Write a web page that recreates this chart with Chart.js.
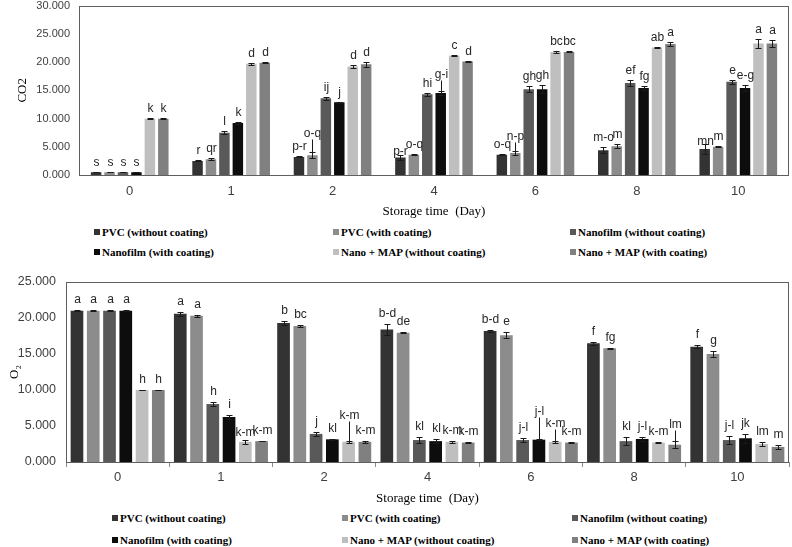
<!DOCTYPE html>
<html>
<head>
<meta charset="utf-8">
<script src="https://cdn.jsdelivr.net/npm/chart.js@4.4.1/dist/chart.umd.min.js"></script>
<style>
  body { margin: 0; background: #fff; width: 792px; height: 547px; overflow: hidden; position: relative; }
  canvas { position: absolute; left: 0; }
  #co2-chart { top: -10px; }
  #o2-chart { top: 262px; }
  .legend-item { position: absolute; font: bold 11px "Liberation Serif", serif; color: #000; white-space: nowrap; line-height: 14px; }
  .legend-item i { display: inline-block; width: 6px; height: 6px; margin-right: 2px; vertical-align: 1px; }
</style>
</head>
<body>
<canvas id="co2-chart" width="792" height="229"></canvas>
<canvas id="o2-chart" width="792" height="244"></canvas>
<div id="legends"></div>
<script>
// Categorias y series
const days = ['0', '1', '2', '4', '6', '8', '10'];
const seriesNames = ['PVC (without coating)', 'PVC (with coating)', 'Nanofilm (without coating)',
                     'Nanofilm (with coating)', 'Nano + MAP (without coating)', 'Nano + MAP (with coating)'];
const seriesColors = ['#333333', '#8c8c8c', '#595959', '#0d0d0d', '#bfbfbf', '#808080'];

// CO2 (una fila por serie, una columna por dia)
const co2Mean = [
    [0.5, 2.5, 3.2, 3.1, 3.6, 4.4, 4.6],
    [0.5, 2.8, 3.5, 3.6, 3.9, 5.1, 5.0],
    [0.5, 7.5, 13.6, 14.3, 15.2, 16.3, 16.5],
    [0.5, 9.2, 12.9, 14.5, 15.2, 15.4, 15.4],
    [9.95, 19.7, 19.2, 21.1, 21.8, 22.6, 23.3],
    [9.95, 19.9, 19.6, 20.1, 21.8, 23.2, 23.3]
];
const co2Err = [
    [0.05, 0.1, 0.1, 0.4, 0.1, 0.5, 0.9],
    [0.05, 0.2, 0.5, 0.1, 0.3, 0.4, 0.1],
    [0.05, 0.3, 0.3, 0.3, 0.5, 0.5, 0.3],
    [0.05, 0.1, 0.1, 0.3, 0.7, 0.4, 0.5],
    [0.1, 0.15, 0.2, 0.1, 0.2, 0.1, 0.8],
    [0.1, 0.1, 0.5, 0.1, 0.1, 0.4, 0.6]
];
const co2Letters = [
    ['s', 'r', 'p-r', 'p-r', 'o-q', 'm-o', 'mn'],
    ['s', 'qr', 'o-q', 'o-q', 'n-p', 'm', 'm'],
    ['s', 'l', 'ij', 'hi', 'gh', 'ef', 'e'],
    ['s', 'k', 'j', 'g-i', 'gh', 'fg', 'e-g'],
    ['k', 'd', 'd', 'c', 'bc', 'ab', 'a'],
    ['k', 'd', 'd', 'd', 'bc', 'a', 'a']
];

// O2
const o2Mean = [
    [21.0, 20.6, 19.3, 18.4, 18.2, 16.5, 16.0],
    [21.0, 20.3, 18.9, 17.95, 17.6, 15.8, 15.0],
    [21.0, 8.05, 3.9, 3.05, 3.05, 2.9, 3.05],
    [21.0, 6.25, 3.15, 2.9, 3.1, 3.2, 3.3],
    [10.0, 2.8, 2.8, 2.8, 2.8, 2.7, 2.5],
    [10.0, 2.9, 2.8, 2.7, 2.7, 2.4, 2.1]
];
const o2Err = [
    [0.05, 0.3, 0.3, 0.7, 0.2, 0.2, 0.2],
    [0.05, 0.1, 0.1, 0.1, 0.4, 0.1, 0.4],
    [0.05, 0.3, 0.3, 0.4, 0.3, 0.6, 0.6],
    [0.05, 0.3, 0.1, 0.3, 0.1, 0.3, 0.6],
    [0.05, 0.3, 0.1, 0.1, 0.1, 0.1, 0.3],
    [0.05, 0.05, 0.1, 0.1, 0.1, 0.5, 0.3]
];
const o2Letters = [
    ['a', 'a', 'b', 'b-d', 'b-d', 'f', 'f'],
    ['a', 'a', 'bc', 'de', 'e', 'fg', 'g'],
    ['a', 'h', 'j', 'kl', 'j-l', 'kl', 'j-l'],
    ['a', 'i', 'kl', 'kl', 'j-l', 'j-l', 'jk'],
    ['h', 'k-m', 'k-m', 'k-m', 'k-m', 'k-m', 'lm'],
    ['h', 'k-m', 'k-m', 'k-m', 'k-m', 'lm', 'm']
];

// Desplazamiento vertical de las letras (px); >0 con linea guia
const co2Lift = [
    [0, 0, 0, -6, 0, 0, -7],
    [0, 0, 9, 0, 5, 0, 0],
    [0, 0, 0, 0, 0, 0, 0],
    [0, 0, 0, 7, 0, 0, 0],
    [0, 0, 0, 0, 0, 0, 0],
    [0, 0, 0, 0, 0, 0, 0]
];
const o2Lift = [
    [0, 0, 0, 0, 0, 0, 0],
    [0, 0, 0, 0, 0, 0, 0],
    [0, 0, 0, 0, 0, 0, 0],
    [0, 0, 0, 0, 17, 0, 0],
    [0, -3, 15, 0, 7, 0, 0],
    [0, 0, 0, 0, 0, 6, 0]
];

// Plugin: barras de error, letras y marco
const barExtras = {
    id: 'barExtras',
    afterDatasetsDraw(chart, args, opts) {
        const ctx = chart.ctx;
        const yScale = chart.scales.y;
        const area = chart.chartArea;
        ctx.save();
        ctx.font = '12px "Liberation Sans", Arial, sans-serif';
        ctx.textAlign = 'center';
        ctx.textBaseline = 'alphabetic';
        chart.data.datasets.forEach((ds, i) => {
            const meta = chart.getDatasetMeta(i);
            meta.data.forEach((bar, j) => {
                const v = ds.data[j];
                const e = opts.errors[i][j];
                const yTop = Math.round(yScale.getPixelForValue(v + e)) + 0.5;
                const yBot = Math.round(yScale.getPixelForValue(v - e)) + 0.5;
                const x = Math.round(bar.x) + 0.5;
                ctx.strokeStyle = '#1a1a1a';
                ctx.lineWidth = 1;
                ctx.beginPath();
                ctx.moveTo(x, yTop); ctx.lineTo(x, yBot);
                ctx.moveTo(x - 3, yTop); ctx.lineTo(x + 3, yTop);
                ctx.moveTo(x - 3, yBot); ctx.lineTo(x + 3, yBot);
                ctx.stroke();

                const lift = opts.lift[i][j];
                const ty = yTop - opts.gap - lift;
                ctx.fillStyle = '#262626';
                ctx.fillText(opts.letters[i][j], x, ty);
                if (lift > 0) {
                    ctx.beginPath();
                    ctx.moveTo(x, ty + 3);
                    ctx.lineTo(x, yTop);
                    ctx.stroke();
                }
            });
        });
        // marco del area
        ctx.strokeStyle = '#5f5f5f';
        ctx.lineWidth = 1;
        ctx.strokeRect(Math.round(area.left) + 0.5, Math.round(area.top) + 0.5,
                       Math.round(area.width) - 1, Math.round(area.height));
        ctx.restore();
    }
};

function crearGrafico(id, means, errs, letters, lift, cfg) {
    const datasets = means.map((vals, i) => ({
        label: seriesNames[i],
        data: vals,
        backgroundColor: seriesColors[i],
        borderWidth: 0,
        categoryPercentage: cfg.catPct,
        barPercentage: cfg.barPct
    }));
    return new Chart(document.getElementById(id), {
        type: 'bar',
        data: { labels: days, datasets: datasets },
        options: {
            responsive: false,
            devicePixelRatio: 1,
            animation: false,
            layout: { padding: { top: cfg.padTop, right: 3, left: 0, bottom: 0 } },
            plugins: {
                legend: { display: false },
                tooltip: { enabled: false },
                barExtras: { errors: errs, letters: letters, lift: lift, gap: cfg.gap }
            },
            scales: {
                x: {
                    grid: cfg.xTicks
                        ? { display: true, drawOnChartArea: false, drawTicks: true, tickLength: 5, color: '#8a8a8a' }
                        : { display: false, drawTicks: false },
                    border: { display: false },
                    ticks: { color: '#404040', padding: cfg.xPad, font: { family: '"Liberation Sans", Arial', size: 13 } },
                    title: {
                        display: true,
                        text: 'Storage time  (Day)',
                        color: '#000',
                        padding: { top: 0, bottom: 0 },
                        font: { family: '"Liberation Serif", serif', size: 13 }
                    },
                    afterFit: s => { s.height = cfg.xHeight; }
                },
                y: {
                    min: 0,
                    max: cfg.yMax,
                    grid: { display: false, drawTicks: false },
                    border: { display: false },
                    ticks: {
                        stepSize: 5,
                        padding: cfg.yPad,
                        color: '#404040',
                        font: { family: '"Liberation Sans", Arial', size: cfg.yFont },
                        callback: v => v.toFixed(3)
                    },
                    title: {
                        display: true,
                        text: cfg.yTitle,
                        color: '#000',
                        padding: { top: cfg.yTitlePad, bottom: 0 },
                        font: { family: '"Liberation Serif", serif', size: 13 }
                    },
                    afterFit: s => { s.width = cfg.yWidth; }
                }
            }
        },
        plugins: [barExtras]
    });
}

crearGrafico('co2-chart', co2Mean, co2Err, co2Letters, co2Lift, {
    catPct: 0.795, barPct: 0.78, padTop: 15, gap: 7, xTicks: false, xPad: 9, xHeight: 44,
    yMax: 30, yPad: 9, yFont: 11, yTitle: 'CO2', yTitlePad: 15, yWidth: 79
});
crearGrafico('o2-chart', o2Mean, o2Err, o2Letters, o2Lift, {
    catPct: 0.945, barPct: 0.78, padTop: 20, gap: 8, xTicks: true, xPad: 3, xHeight: 44,
    yMax: 25, yPad: 10, yFont: 12.5, yTitle: 'O\u2082', yTitlePad: 7, yWidth: 66
});

// Leyendas en HTML (3 columnas x 2 filas)
function crearLeyenda(cols, rows) {
    const cont = document.getElementById('legends');
    seriesNames.forEach((name, i) => {
        const div = document.createElement('div');
        div.className = 'legend-item';
        div.style.left = cols[i % 3] + 'px';
        div.style.top = (rows[Math.floor(i / 3)] - 7) + 'px';
        div.innerHTML = '<i style="background:' + seriesColors[i] + '"></i>' + name;
        cont.appendChild(div);
    });
}
crearLeyenda([94, 333, 570], [232, 252]);
crearLeyenda([112, 342, 572], [518, 540]);
</script>
</body>
</html>
